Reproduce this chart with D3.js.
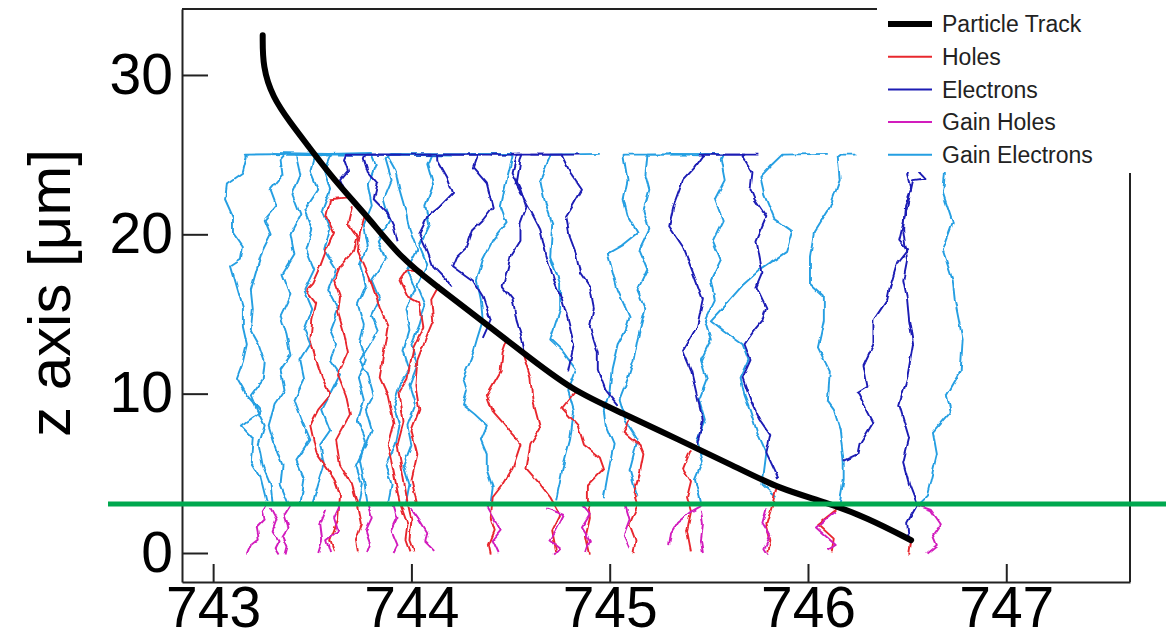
<!DOCTYPE html>
<html>
<head>
<meta charset="utf-8">
<script src="https://cdn.jsdelivr.net/npm/d3@7"></script>
<style>
  body { margin: 0; background: #fff; }
  svg { display: block; font-family: "Liberation Sans", Arial, Helvetica, sans-serif; }
</style>
</head>
<body>
<svg id="chart" width="1174" height="641"></svg>
<script>
// x position [um], z depth [um]
const trackPts = [[743.25,32.5],[743.25,30.5],[743.30,28.6],[743.39,27.0],[743.47,25.7],[743.61,23.4],[743.78,21.1],[743.94,18.6],[744.11,16.9],[744.27,15.4],[744.56,12.6],[744.81,10.2],[745.06,8.8],[745.35,7.1],[745.62,5.5],[745.86,4.0],[746.09,3.2],[746.30,2.2],[746.52,0.8]];

const gainElectrons = [
  [[743.27,3.2],[743.24,4.7],[743.19,5.7],[743.20,7.2],[743.14,8.0],[743.24,8.9],[743.17,9.9],[743.12,11.0],[743.15,12.0],[743.17,13.1],[743.15,14.2],[743.15,15.4],[743.12,16.7],[743.09,18.0],[743.14,18.4],[743.15,19.2],[743.10,20.1],[743.10,21.1],[743.06,22.2],[743.07,23.2],[743.15,23.9],[743.17,24.9],[743.16,25.0],[743.45,25.05]],
  [[743.30,3.1],[743.29,4.3],[743.25,5.5],[743.23,6.8],[743.26,8.0],[743.22,9.0],[743.19,9.9],[743.25,10.9],[743.26,12.0],[743.23,13.1],[743.19,14.0],[743.20,15.3],[743.19,16.5],[743.22,17.8],[743.25,19.0],[743.29,20.0],[743.26,20.9],[743.32,21.8],[743.29,22.8],[743.35,23.7],[743.34,24.7],[743.36,25.0],[743.60,24.95]],
  [[743.38,3.1],[743.34,4.3],[743.35,5.5],[743.31,6.8],[743.28,8.0],[743.31,9.3],[743.36,10.2],[743.34,11.5],[743.39,12.4],[743.37,13.7],[743.34,14.9],[743.39,16.2],[743.35,17.5],[743.41,18.7],[743.39,20.0],[743.44,21.2],[743.40,22.5],[743.44,23.7],[743.42,24.8],[743.42,25.0],[743.80,25.1]],
  [[743.44,3.1],[743.46,4.6],[743.42,5.8],[743.49,7.1],[743.45,8.3],[743.41,9.6],[743.46,10.9],[743.44,12.1],[743.49,13.1],[743.46,14.0],[743.50,15.3],[743.46,16.5],[743.51,17.8],[743.47,19.0],[743.50,20.3],[743.46,21.5],[743.53,22.8],[743.49,24.0],[743.51,24.9],[743.52,25.0],[743.95,25.0]],
  [[743.50,3.0],[743.53,4.3],[743.56,5.5],[743.54,6.8],[743.59,7.7],[743.55,9.0],[743.60,10.2],[743.64,11.2],[743.59,12.1],[743.62,13.1],[743.59,14.0],[743.63,15.3],[743.58,16.5],[743.62,17.8],[743.56,19.0],[743.59,20.3],[743.55,21.5],[743.59,22.8],[743.56,24.0],[743.59,24.9],[743.58,25.05],[743.30,25.1]],
  [[743.73,3.0],[743.75,4.3],[743.72,5.5],[743.77,6.8],[743.80,7.7],[743.77,9.0],[743.81,9.9],[743.78,11.2],[743.74,12.1],[743.79,13.1],[743.83,14.0],[743.80,14.9],[743.84,15.9],[743.80,17.1],[743.87,18.4],[743.83,19.6],[743.89,20.9],[743.86,22.2],[743.90,23.4],[743.87,24.7],[743.89,25.0],[744.20,24.95]],
  [[743.78,3.0],[743.76,4.6],[743.74,5.8],[743.77,7.1],[743.73,8.3],[743.76,9.6],[743.73,11.0],[743.77,12.1],[743.74,13.1],[743.76,14.3],[743.73,15.6],[743.77,16.8],[743.74,18.1],[743.78,19.3],[743.76,20.6],[743.80,21.8],[743.78,23.1],[743.82,24.4],[743.80,25.0],[743.55,25.05]],
  [[743.88,3.0],[743.90,4.3],[743.87,5.5],[743.92,6.8],[743.94,8.0],[743.91,9.3],[743.94,10.5],[743.99,11.5],[743.96,12.7],[743.99,14.0],[743.97,15.3],[744.02,16.5],[743.98,17.8],[744.03,19.0],[743.99,20.3],[743.97,21.5],[743.94,22.8],[743.92,24.0],[743.88,24.9],[743.90,25.05],[744.35,25.0]],
  [[743.97,3.0],[743.99,4.3],[743.96,5.5],[744.00,6.8],[743.98,8.0],[744.02,9.3],[743.99,10.5],[744.03,11.8],[744.00,13.1],[744.04,14.3],[744.07,15.6],[744.03,16.8],[744.08,18.1],[744.04,19.3],[744.09,20.6],[744.07,21.8],[744.11,23.1],[744.08,24.4],[744.10,25.0],[744.50,25.05]],
  [[744.40,3.2],[744.41,4.1],[744.38,5.2],[744.38,6.2],[744.35,7.1],[744.38,8.0],[744.32,8.7],[744.26,9.3],[744.28,10.2],[744.26,11.0],[744.30,12.1],[744.33,13.4],[744.36,14.6],[744.35,15.9],[744.33,17.1],[744.36,18.4],[744.41,19.6],[744.48,20.7],[744.45,21.7],[744.48,23.4],[744.51,24.9],[744.50,25.0],[744.30,25.05]],
  [[744.73,3.3],[744.76,5.2],[744.80,7.1],[744.82,8.9],[744.79,10.2],[744.83,11.5],[744.76,12.7],[744.70,13.4],[744.75,15.3],[744.75,16.9],[744.70,18.6],[744.71,20.7],[744.67,22.2],[744.65,23.4],[744.70,24.9],[744.70,25.0],[744.95,25.05]],
  [[744.97,3.5],[744.99,4.9],[745.02,6.8],[744.98,8.0],[744.97,8.9],[745.00,10.2],[745.01,11.5],[745.04,13.1],[745.08,14.0],[745.10,14.8],[745.04,16.5],[744.99,18.8],[745.06,19.3],[745.14,20.1],[745.09,21.2],[745.07,22.2],[745.09,23.4],[745.07,24.9],[745.07,25.0],[745.40,25.0]],
  [[745.14,3.5],[745.10,5.2],[745.14,7.1],[745.08,8.3],[745.05,9.6],[745.09,10.9],[745.12,12.1],[745.14,13.4],[745.18,15.3],[745.14,16.5],[745.19,17.8],[745.15,19.0],[745.20,20.3],[745.17,21.5],[745.20,22.8],[745.18,23.7],[745.19,25.0],[745.55,25.05]],
  [[745.46,3.2],[745.43,4.6],[745.47,5.8],[745.44,7.1],[745.48,8.3],[745.45,9.6],[745.49,10.9],[745.46,12.1],[745.51,13.4],[745.48,14.6],[745.53,15.9],[745.51,17.1],[745.56,18.4],[745.52,19.6],[745.57,20.9],[745.53,22.2],[745.58,23.4],[745.56,24.7],[745.57,25.0],[745.30,25.05]],
  [[745.84,3.5],[745.77,4.3],[745.79,6.3],[745.74,7.7],[745.71,8.9],[745.68,9.9],[745.66,11.0],[745.70,12.1],[745.67,13.1],[745.58,13.9],[745.51,14.6],[745.60,15.8],[745.67,16.8],[745.76,17.8],[745.89,18.9],[745.92,20.2],[745.83,21.0],[745.78,22.5],[745.76,23.6],[745.82,24.4],[745.87,25.0],[746.10,25.05]],
  [[746.16,3.2],[746.18,4.6],[746.18,5.7],[746.16,7.8],[746.13,9.0],[746.10,9.5],[746.11,11.4],[746.05,12.9],[746.08,14.6],[746.08,16.1],[746.01,16.9],[746.01,18.6],[746.03,20.1],[746.08,21.1],[746.11,21.7],[746.16,23.4],[746.15,24.9],[746.16,25.0],[746.24,25.0]],
  [[746.55,3.0],[746.60,3.6],[746.65,6.2],[746.63,7.6],[746.72,8.9],[746.70,9.9],[746.77,11.4],[746.78,13.4],[746.74,15.9],[746.73,17.1],[746.68,19.0],[746.73,20.7],[746.68,22.6],[746.69,23.7],[746.69,25.0]]
];

const electrons = [
  [[746.51,0.7],[746.50,1.9],[746.55,3.0],[746.51,4.3],[746.48,5.7],[746.51,7.2],[746.46,9.3],[746.50,11.0],[746.53,13.1],[746.51,14.6],[746.50,15.9],[746.48,17.1],[746.50,18.4],[746.48,20.3],[746.49,21.8],[746.52,22.8],[746.50,23.7],[746.52,24.7],[746.51,25.0]],
  [[746.18,5.8],[746.25,6.2],[746.26,6.8],[746.33,8.2],[746.25,10.1],[746.30,10.5],[746.28,11.8],[746.33,13.1],[746.33,14.6],[746.40,15.9],[746.41,16.5],[746.45,18.2],[746.50,19.0],[746.46,19.6],[746.50,21.7],[746.53,23.4],[746.59,23.5],[746.56,23.9],[746.60,24.2]],
  [[745.85,4.7],[745.79,6.3],[745.81,7.4],[745.76,8.3],[745.71,9.6],[745.67,11.0],[745.71,12.1],[745.68,13.1],[745.73,14.0],[745.77,14.6],[745.79,15.4],[745.74,16.7],[745.77,17.6],[745.74,19.6],[745.79,21.1],[745.73,22.2],[745.71,22.8],[745.72,23.9],[745.67,24.9],[745.68,25.0],[745.45,25.0]],
  [[745.44,6.8],[745.47,8.3],[745.44,9.9],[745.41,11.5],[745.37,12.7],[745.44,14.2],[745.47,15.9],[745.42,17.6],[745.37,19.2],[745.30,20.5],[745.32,21.7],[745.37,23.4],[745.43,24.2],[745.47,24.9],[745.48,25.0],[745.75,25.0]],
  [[744.36,13.5],[744.40,14.6],[744.36,16.1],[744.31,17.1],[744.21,18.0],[744.23,18.6],[744.28,19.2],[744.31,20.3],[744.36,20.9],[744.41,21.7],[744.38,23.2],[744.31,24.2],[744.33,24.9],[744.33,25.0],[744.05,25.0]],
  [[744.57,12.7],[744.56,13.4],[744.53,14.6],[744.51,15.9],[744.46,16.7],[744.48,17.6],[744.50,18.6],[744.55,19.6],[744.55,20.7],[744.58,21.7],[744.55,22.8],[744.51,23.9],[744.53,24.9],[744.53,25.0],[744.85,25.0]],
  [[745.04,9.3],[744.98,10.2],[744.94,11.5],[744.94,12.6],[744.90,14.2],[744.92,15.4],[744.90,16.7],[744.85,17.6],[744.83,18.8],[744.80,19.8],[744.78,21.1],[744.81,21.7],[744.86,22.8],[744.80,23.9],[744.76,24.9],[744.76,25.0],[744.60,25.0]],
  [[744.79,11.4],[744.82,13.1],[744.79,14.6],[744.76,15.9],[744.72,17.1],[744.68,18.7],[744.65,20.3],[744.60,21.5],[744.53,23.1],[744.55,24.7],[744.56,25.0],[744.40,25.0]],
  [[743.67,22.5],[743.64,23.4],[743.68,24.0],[743.66,24.7],[743.67,25.0],[743.95,25.0]],
  [[743.93,19.5],[743.91,20.5],[743.88,21.3],[743.81,22.2],[743.83,23.2],[743.78,23.9],[743.76,24.7],[743.77,25.0],[744.10,25.0]],
  [[744.20,16.8],[744.18,17.1],[744.11,18.0],[744.08,19.0],[744.04,20.1],[744.08,21.1],[744.14,21.7],[744.21,22.6],[744.18,23.6],[744.13,24.7],[744.13,25.0],[744.45,25.0]]
];

const holes = [
  [[743.67,22.3],[743.59,22.2],[743.57,21.1],[743.61,20.1],[743.57,19.0],[743.54,18.0],[743.50,16.9],[743.47,16.5],[743.52,15.7],[743.50,14.6],[743.49,13.4],[743.52,12.1],[743.55,11.0],[743.59,9.9],[743.53,9.0],[743.49,8.0],[743.52,6.3],[743.61,4.7],[743.64,3.6],[743.63,2.1],[743.59,0.8],[743.61,0.1]],
  [[743.70,21.7],[743.68,20.7],[743.73,19.8],[743.71,19.0],[743.64,18.0],[743.61,17.1],[743.64,16.1],[743.63,15.1],[743.66,13.8],[743.68,12.6],[743.63,11.2],[743.67,9.9],[743.69,8.7],[743.62,7.1],[743.64,5.5],[743.70,4.3],[743.73,3.0],[743.75,1.8],[743.72,0.8],[743.73,0.1]],
  [[743.77,21.4],[743.74,20.1],[743.73,19.0],[743.78,17.6],[743.81,16.5],[743.84,15.4],[743.88,14.2],[743.86,12.6],[743.84,11.0],[743.88,9.9],[743.91,8.2],[743.88,6.8],[743.91,5.1],[743.94,3.2],[743.98,1.8],[743.97,0.8],[743.99,0.1]],
  [[744.05,17.7],[743.98,17.8],[743.94,17.1],[743.98,16.1],[744.04,15.7],[744.06,14.2],[744.01,12.9],[743.98,11.0],[743.94,10.1],[743.96,8.2],[743.93,6.8],[743.96,4.7],[743.98,3.2],[744.00,2.1],[743.99,0.8],[744.01,0.1]],
  [[744.14,16.8],[744.10,15.9],[744.11,14.6],[744.07,13.4],[744.03,12.1],[744.02,10.5],[744.04,9.0],[744.00,7.7],[744.03,6.2],[744.00,4.6],[744.03,3.0]],
  [[744.48,13.3],[744.46,12.6],[744.45,11.4],[744.38,9.9],[744.41,8.9],[744.46,8.2],[744.55,6.8],[744.51,5.3],[744.46,4.3],[744.41,3.5],[744.40,2.2],[744.42,1.4],[744.39,0.5],[744.40,-0.1]],
  [[744.56,12.6],[744.60,11.0],[744.61,9.7],[744.65,7.8],[744.60,6.8],[744.58,5.3],[744.65,4.3],[744.70,3.5],[744.75,2.4],[744.71,1.4],[744.73,0.1]],
  [[744.83,10.2],[744.76,9.1],[744.84,8.0],[744.87,6.8],[744.95,6.0],[744.97,5.3],[744.89,4.3],[744.89,3.2],[744.90,2.2],[744.88,1.1],[744.90,-0.1]],
  [[745.10,8.3],[745.07,7.6],[745.15,6.8],[745.17,6.2],[745.15,4.9],[745.12,3.8],[745.14,3.0],[745.10,1.8],[745.13,0.8],[745.12,0.0]],
  [[745.41,6.5],[745.37,5.3],[745.41,4.5],[745.39,3.5],[745.41,2.6],[745.39,1.4],[745.41,0.1]],
  [[745.84,4.1],[745.82,3.0],[745.79,1.8],[745.81,0.8],[745.80,0.1]],
  [[746.15,2.8],[746.05,1.8],[746.13,0.9],[746.12,0.1]],
  [[746.52,0.8],[746.51,-0.1]]
];

const gainHoles = [
  [[743.27,3.0],[743.25,2.6],[743.26,2.1],[743.22,1.6],[743.23,0.9],[743.19,0.5],[743.17,-0.1]],
  [[743.29,2.8],[743.32,2.1],[743.30,1.4],[743.33,0.8],[743.31,0.3],[743.33,-0.1]],
  [[743.39,3.0],[743.36,2.4],[743.38,1.6],[743.35,1.0],[743.37,0.4],[743.36,-0.1]],
  [[743.57,2.7],[743.54,1.8],[743.55,0.8],[743.53,0.0]],
  [[743.64,3.0],[743.61,2.2],[743.63,1.4],[743.57,0.8],[743.59,0.0]],
  [[743.78,3.0],[743.80,2.2],[743.77,1.4],[743.79,0.7],[743.77,0.0]],
  [[743.91,3.0],[743.93,2.2],[743.90,1.4],[743.93,0.5],[743.91,0.0]],
  [[744.00,2.8],[744.04,2.1],[744.08,1.3],[744.07,0.7],[744.11,0.2]],
  [[744.38,3.0],[744.42,2.1],[744.45,1.4],[744.41,0.8],[744.44,0.0]],
  [[744.68,2.8],[744.77,2.4],[744.73,1.4],[744.70,0.8],[744.75,0.3],[744.72,-0.1]],
  [[744.86,3.0],[744.90,2.4],[744.86,1.6],[744.90,0.8],[744.88,0.0]],
  [[745.08,3.0],[745.10,2.1],[745.07,1.1],[745.10,0.3]],
  [[745.47,3.0],[745.41,2.6],[745.34,1.9],[745.31,1.3],[745.30,0.5]],
  [[745.46,2.7],[745.47,1.8],[745.46,0.8],[745.47,0.0]],
  [[745.79,2.8],[745.77,1.9],[745.81,1.1],[745.78,0.3],[745.80,-0.1]],
  [[746.14,2.6],[746.04,1.6],[746.14,0.5],[746.10,0.2]],
  [[746.55,3.0],[746.62,2.7],[746.67,1.8],[746.63,1.1],[746.65,0.5],[746.60,0.0]]
];

const xTicks = [743, 744, 745, 746, 747];
const yTicks = [0, 10, 20, 30];
const gainLayerZ = 3.08;
const legendLabels = ['Particle Track', 'Holes', 'Electrons', 'Gain Holes', 'Gain Electrons'];

const colors = {
  track: '#000000',
  holes: '#e8282e',
  electrons: '#1c1cb4',
  gainHoles: '#d21dbd',
  gainElectrons: '#259fe2'
};

const svg = d3.select('#chart');

// slight wobble on the drift paths (rendering effect only)
const defs = svg.append('defs');
const jitter = defs.append('filter')
  .attr('id', 'jitter')
  .attr('x', '-5%').attr('y', '-5%')
  .attr('width', '110%').attr('height', '110%');
jitter.append('feTurbulence')
  .attr('type', 'fractalNoise')
  .attr('baseFrequency', 0.11)
  .attr('numOctaves', 1)
  .attr('seed', 5)
  .attr('result', 'noise');
jitter.append('feDisplacementMap')
  .attr('in', 'SourceGraphic')
  .attr('in2', 'noise')
  .attr('scale', 5)
  .attr('xChannelSelector', 'R')
  .attr('yChannelSelector', 'G');

const x = d3.scaleLinear().domain([742.843, 747.624]).range([182, 1130]);
const y = d3.scaleLinear().domain([-1.82, 34.14]).range([582, 9]);

const line = d3.line().x(d => x(d[0])).y(d => y(d[1]));

const plot = svg.append('g');
const traces = plot.append('g').attr('filter', 'url(#jitter)');

function drawTraces(data, color) {
  traces.append('g')
    .selectAll('path')
    .data(data)
    .enter()
    .append('path')
    .attr('d', line)
    .attr('fill', 'none')
    .attr('stroke', color)
    .attr('stroke-width', 1.9)
    .attr('stroke-linejoin', 'round');
}

drawTraces(gainElectrons, colors.gainElectrons);
drawTraces(electrons, colors.electrons);
drawTraces(holes, colors.holes);
drawTraces(gainHoles, colors.gainHoles);

// particle track
plot.append('path')
  .datum(trackPts)
  .attr('d', d3.line().x(d => x(d[0])).y(d => y(d[1])).curve(d3.curveBasis))
  .attr('fill', 'none')
  .attr('stroke', colors.track)
  .attr('stroke-width', 6)
  .attr('stroke-linecap', 'round');

// axes
const yAxis = d3.axisLeft(y).tickValues(yTicks).tickFormat(d3.format('d'))
  .tickSizeInner(-26).tickSizeOuter(0).tickPadding(9);
const xAxis = d3.axisBottom(x).tickValues(xTicks).tickFormat(d3.format('d'))
  .tickSizeInner(-18).tickSizeOuter(0).tickPadding(5);

const gy = svg.append('g').attr('transform', 'translate(182,0)').call(yAxis);
const gx = svg.append('g').attr('transform', 'translate(0,582)').call(xAxis);

[gy, gx].forEach(g => {
  g.selectAll('path, line').attr('stroke', '#222').attr('stroke-width', 2);
  g.selectAll('text').attr('fill', '#000').attr('font-family', '"Liberation Sans", Arial, sans-serif');
});
gy.selectAll('text').attr('font-size', 57);
gx.selectAll('text').attr('font-size', 57);

// legend box covers the top right corner of the frame
const legend = svg.append('g');
legend.append('rect')
  .attr('x', 877).attr('y', 0)
  .attr('width', 297).attr('height', 172)
  .attr('fill', '#fff');

// frame: top and right borders
svg.append('line')
  .attr('x1', 182).attr('x2', 877).attr('y1', 9).attr('y2', 9)
  .attr('stroke', '#222').attr('stroke-width', 2);
svg.append('line')
  .attr('x1', 1130).attr('x2', 1130).attr('y1', 173).attr('y2', 582)
  .attr('stroke', '#222').attr('stroke-width', 2);

const legendColors = [colors.track, colors.holes, colors.electrons, colors.gainHoles, colors.gainElectrons];
legendLabels.forEach((label, i) => {
  const ly = 24 + i * 32.7;
  legend.append('line')
    .attr('x1', 888).attr('x2', 932)
    .attr('y1', ly).attr('y2', ly)
    .attr('stroke', legendColors[i])
    .attr('stroke-width', i === 0 ? 6 : 2);
  legend.append('text')
    .attr('x', 942).attr('y', ly)
    .attr('dy', '0.36em')
    .attr('font-size', 23)
    .attr('fill', '#222')
    .text(label);
});

// axis title
svg.append('text')
  .attr('transform', 'translate(70,293) rotate(-90)')
  .attr('text-anchor', 'middle')
  .attr('font-size', 60)
  .attr('fill', '#000')
  .text('z axis [μm]');

// gain layer boundary
svg.append('line')
  .attr('x1', 108).attr('x2', 1166)
  .attr('y1', y(gainLayerZ)).attr('y2', y(gainLayerZ))
  .attr('stroke', '#00a84f')
  .attr('stroke-width', 5);
</script>
</body>
</html>
